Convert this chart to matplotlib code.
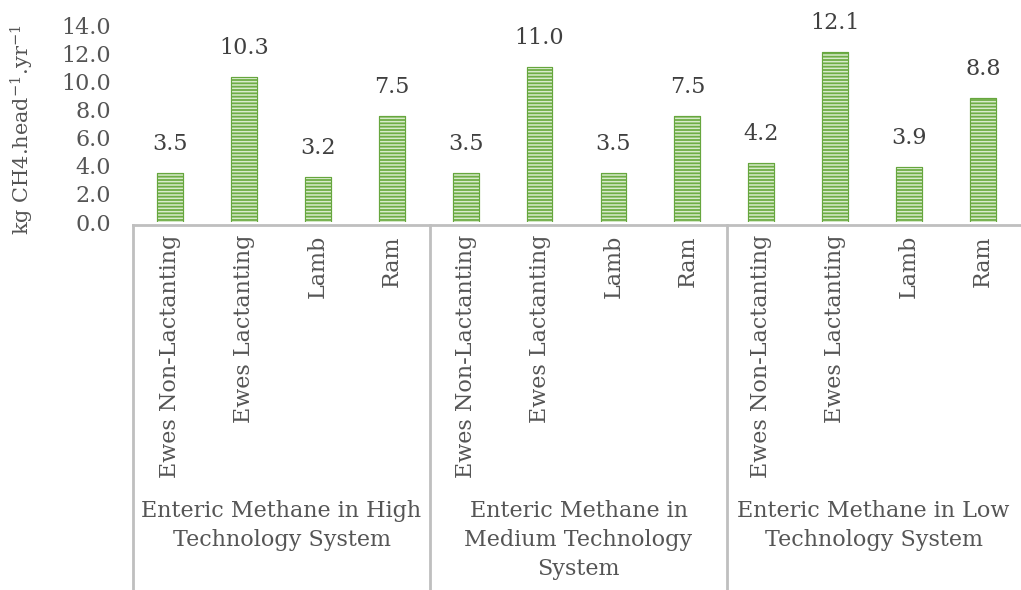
import matplotlib
matplotlib.use("Agg")
import matplotlib.pyplot as plt

# Enteric methane per head, three technology systems
categories = ["Ewes Non-Lactanting", "Ewes Lactanting", "Lamb", "Ram"]
groups = ["Enteric Methane in High\nTechnology System",
          "Enteric Methane in\nMedium Technology\nSystem",
          "Enteric Methane in Low\nTechnology System"]
high_values = [3.5, 10.3, 3.2, 7.5]
medium_values = [3.5, 11.0, 3.5, 7.5]
low_values = [4.2, 12.1, 3.9, 8.8]
y_ticks = [0, 2, 4, 6, 8, 10, 12, 14]
y_label = "kg CH4.head$^{-1}$.yr$^{-1}$"

FONT = "DejaVu Serif"
TEXT = "#555555"
GRID = "#BFBFBF"
FS = 16
plt.rcParams["font.family"] = [FONT]
plt.rcParams["mathtext.fontset"] = "dejavuserif"
plt.rcParams["hatch.linewidth"] = 1.1
plt.rcParams["hatch.color"] = "#D8EBCB"

W, H = 1021, 590
fig = plt.figure(figsize=(W / 100, H / 100), dpi=100)
left, right, top, bottom = 133, 1020, 25, 222
ax = fig.add_axes([left / W, 1 - bottom / H, (right - left) / W, (bottom - top) / H])

values = high_values + medium_values + low_values
x = list(range(len(values)))
ax.bar(x, values, width=0.35, color="#6EAD45", edgecolor="#6EAD45", linewidth=0.8, zorder=2)
ax.bar(x, values, width=0.35, color="none", edgecolor="#D8EBCB", hatch="-----", linewidth=0, zorder=3)
ax.bar(x, values, width=0.35, color="none", edgecolor="#66A63E", linewidth=0.8, zorder=4)

for xi, v in zip(x, values):
    ax.annotate(f"{v:.1f}", (xi, v), xytext=(0, 13), textcoords="offset points",
                ha="center", va="bottom", fontsize=FS, color="#404040")

ax.set_xlim(-0.5, len(values) - 0.5)
ax.set_ylim(0, 14)
ax.set_yticks(y_ticks)
ax.set_yticklabels([f"{t:.1f}" for t in y_ticks], fontsize=FS, color=TEXT)
ax.tick_params(axis="y", length=0, pad=16)
ax.set_xticks([])
for s in ax.spines.values():
    s.set_visible(False)

# Category box below the axis
def fy(py):
    return 1 - py / H

def fx(px):
    return px / W

line_y = 225
fig.add_artist(plt.Line2D([fx(left), fx(right)], [fy(line_y), fy(line_y)], color=GRID, lw=2))
group_edges = [left, 430, 727, right]
for gx in group_edges[:-1]:
    fig.add_artist(plt.Line2D([fx(gx), fx(gx)], [fy(line_y), 0], color=GRID, lw=2))

step = (right - left) / len(values)
for i, v in enumerate(values):
    cx = left + step * (i + 0.5)
    fig.text(fx(cx), fy(235), categories[i % 4], rotation=90, ha="center", va="top",
             fontsize=FS, color=TEXT)

for g, name in enumerate(groups):
    cx = (group_edges[g] + group_edges[g + 1]) / 2
    fig.text(fx(cx), fy(500), name, ha="center", va="top", fontsize=FS,
             color=TEXT, linespacing=1.4)

fig.text(fx(22), fy(130), y_label, rotation=90, ha="center", va="center",
         fontsize=15, color=TEXT)

fig.savefig("out.png", dpi=100)
